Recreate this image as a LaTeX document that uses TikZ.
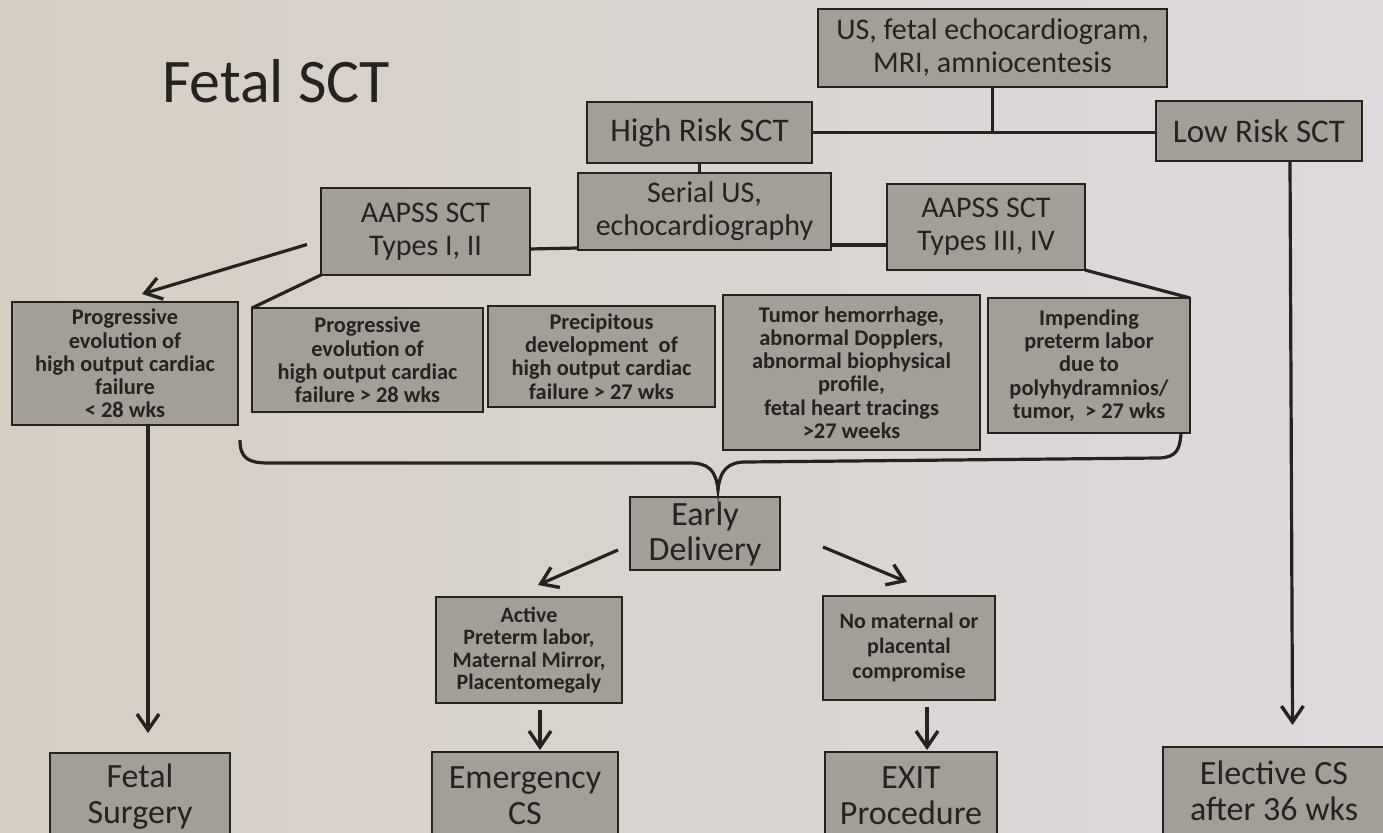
\documentclass[tikz,border=0pt]{standalone}
\usepackage{fontspec}
\setmainfont{Carlito}
\usetikzlibrary{arrows.meta,calc}
\definecolor{bgL}{HTML}{D5CEC3}
\definecolor{bgR}{HTML}{DEDADD}
\definecolor{boxfill}{HTML}{A49E99}
\definecolor{ink}{HTML}{262220}
\begin{document}
\begin{tikzpicture}[x=0.5pt,y=-0.5pt,
  box/.style={draw=ink, fill=boxfill, line width=1.1pt, inner sep=0pt, outer sep=0pt, align=center, text=ink},
  sz/.style 2 args={minimum width=#1*0.5pt, minimum height=#2*0.5pt},
  big/.style={font=\fontsize{15}{16.5}\selectfont},
  huge/.style={font=\fontsize{17}{18}\selectfont},
  small/.style={font=\bfseries\fontsize{11.2}{11.6}\selectfont},
  conn/.style={draw=ink, line width=1.6pt},
  arr/.style={conn, -{Straight Barb[length=8pt,width=11pt,line width=1.7pt]}}]
\useasboundingbox (0,0) rectangle (1383,833);
\clip (0,0) rectangle (1383,833);
\shade[left color=bgL, right color=bgR] (0,0) rectangle (1383,833);

\node[anchor=base west, text=ink, font=\fontsize{31}{33}\selectfont] (title) at (155,103) {Fetal SCT};

\node[box, big, sz={349}{78}] (top) at (992.5,48) {US, fetal echocardiogram,\\MRI, amniocentesis};
\node[box, font=\fontsize{16.5}{17}\selectfont, sz={225}{61}] (high) at (699.5,132.5) {High Risk SCT};
\node[box, font=\fontsize{16.5}{17}\selectfont, sz={206}{60}] (low) at (1259,131) {Low Risk SCT};
\node[box, big, sz={253}{77}] (serial) at (704.5,211.5) {Serial US,\\echocardiography};
\node[box, big, sz={209}{87}] (aap1) at (425.5,231.5) {AAPSS SCT\\Types I, II};
\node[box, big, sz={198}{86}] (aap3) at (986,227) {AAPSS SCT\\Types III, IV};

\node[box, small, sz={226}{123}] (prog28) at (125,363.5) {Progressive\\evolution of\\high output cardiac\\failure\\< 28 wks};
\node[box, small, sz={231}{104}] (progA) at (367.5,360) {Progressive\\evolution of\\high output cardiac\\failure > 28 wks};
\node[box, small, sz={227}{101}] (precip) at (601.5,356.5) {Precipitous\\development\ \ of\\high output cardiac\\failure > 27 wks};
\node[box, small, sz={257}{155}] (tumor) at (851.5,372.5) {Tumor hemorrhage,\\abnormal Dopplers,\\abnormal biophysical\\profile,\\fetal heart tracings\\>27 weeks};
\node[box, small, sz={202}{135}] (imp) at (1089,365.5) {Impending\\preterm labor\\due to\\polyhydramnios/\\tumor,\ \ > 27 wks};

\node[box, font=\fontsize{17}{17.5}\selectfont, sz={150}{73}] (early) at (705,533.5) {Early\\Delivery};
\node[box, small, font=\bfseries\fontsize{11}{11.2}\selectfont, sz={186}{106}] (active) at (529,650) {Active\\Preterm labor,\\Maternal Mirror,\\Placentomegaly};
\node[box, small, font=\bfseries\fontsize{11}{12.5}\selectfont, sz={172}{104}] (nomat) at (909,648) {No maternal or\\placental\\compromise};

\node[box, huge, sz={180}{87}] (fsurg) at (140,796.5) {Fetal\\Surgery};
\node[box, huge, sz={186}{88}] (emerg) at (525,796) {Emergency\\CS};
\node[box, huge, sz={172}{88}] (exitp) at (911,796) {EXIT\\Procedure};
\node[box, huge, sz={222}{88}] (elect) at (1274,791) {Elective CS\\after 36 wks};

% connectors
\draw[conn] (top.south) -- (top.south |- high.east);
\draw[conn] (high.east) -- (high.east -| low.west);
\draw[conn] (high.south) -- (high.south |- serial.north);
\draw[conn] ($(aap1.south east)+(0,-26)$) -- ($(serial.south west)+(0,-2)$);
\draw[conn] ($(serial.south east)+(0,-5)$) -- ($(aap3.south west)+(0,-25)$);
\draw[arr] ($(aap1.west)+(-14,13)$) -- ($(prog28.north)+(17,-8)$);
\draw[conn] (aap1.south west) -- (progA.north west);
\draw[conn] (aap3.south east) -- (imp.north east);
\draw[arr] ($(prog28.south)+(23,0)$) -- ($(fsurg.north)+(8,-20)$);
\draw[arr] ($(low.south)+(31,0)$) -- ($(elect.north)+(18.5,-22)$);

% brace
\draw[conn] (240,440) .. controls (240,458) and (248,463) .. (268,463) -- (690,463)
  .. controls (708,463) and (716,470) .. (718,490)
  .. controls (720,470) and (728,462) .. (746,462) -- (1160,458)
  .. controls (1176,457) and (1180,450) .. (1181,433);

\draw[arr] ($(early.south west)+(-12,-20)$) -- ($(active.north)+(9,-12)$);
\draw[arr] ($(early.south east)+(43,-23)$) -- ($(nomat.north)+(-2,-14)$);
\draw[arr] ($(active.south)+(11,7)$) -- ($(emerg.north)+(15,-2)$);
\draw[arr] ($(nomat.south)+(18,7)$) -- ($(exitp.north)+(16,-2)$);
\end{tikzpicture}
\end{document}
